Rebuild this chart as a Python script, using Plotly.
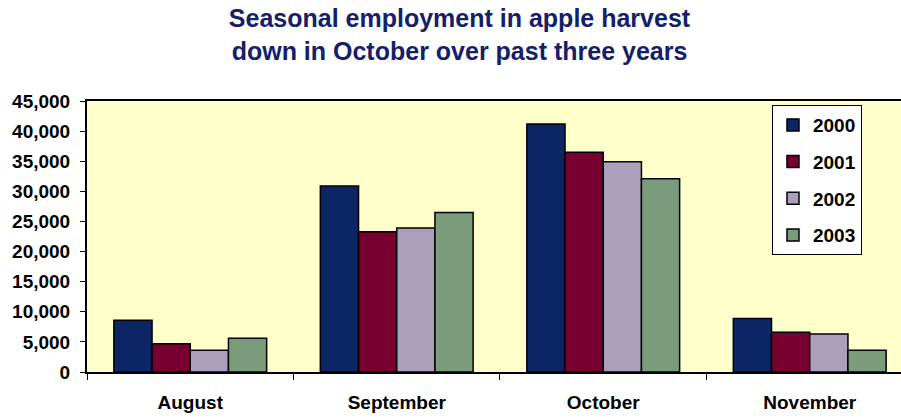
import plotly.graph_objects as go

months = ["August", "September", "October", "November"]
years = ["2000", "2001", "2002", "2003"]
jobs_2000 = [8600, 30900, 41200, 8900]
jobs_2001 = [4700, 23300, 36500, 6600]
jobs_2002 = [3600, 23900, 34900, 6300]
jobs_2003 = [5600, 26500, 32100, 3600]
colors = ["#0B2565", "#780030", "#AC9FBE", "#7B9C7A"]

series = [jobs_2000, jobs_2001, jobs_2002, jobs_2003]

fig = go.Figure()
for yr, vals, col in zip(years, series, colors):
    fig.add_trace(go.Bar(
        x=months, y=vals, name=yr, legendgroup=yr,
        marker=dict(color=col, line=dict(color="black", width=1.5)),
    ))

font_main = "Arial, Liberation Sans, sans-serif"

fig.update_layout(
    width=901, height=418,
    margin=dict(l=87, r=0, t=101, b=46),
    paper_bgcolor="white",
    plot_bgcolor="#FFFFCC",
    barmode="group",
    bargap=0.26,
    bargroupgap=0,
    title=dict(
        text="Seasonal employment in apple harvest<br>down in October over past three years",
        font=dict(family=font_main, size=25, color="#14206A", weight="bold"),
        x=0.51, xanchor="center", y=0.935, yanchor="top",
    ),
    font=dict(family=font_main, size=18, color="black"),
    showlegend=True,
    legend=dict(
        x=0.8415, y=0.985, xanchor="left", yanchor="top",
        bgcolor="white", bordercolor="black", borderwidth=1,
        font=dict(family=font_main, size=19, color="black", weight="bold"),
        traceorder="grouped", tracegroupgap=9, itemwidth=30,
    ),
    xaxis=dict(
        range=[-0.5, 3.442],
        showline=True, linecolor="black", linewidth=2, mirror=True,
        ticks="outside", tickson="boundaries", ticklen=6, tickcolor="black",
        tickfont=dict(family=font_main, size=19, color="black", weight="bold"),
        ticklabelstandoff=12,
        showgrid=False, fixedrange=True,
    ),
    yaxis=dict(
        range=[0, 45000], tickvals=list(range(0, 45001, 5000)),
        tickformat=",d",
        showline=True, linecolor="black", linewidth=2,
        ticks="outside", ticklen=5, tickcolor="black",
        tickfont=dict(family=font_main, size=19, color="black", weight="bold"),
        ticklabelstandoff=6,
        showgrid=False, zeroline=False, fixedrange=True,
    ),
)

fig.write_html("out.html")
